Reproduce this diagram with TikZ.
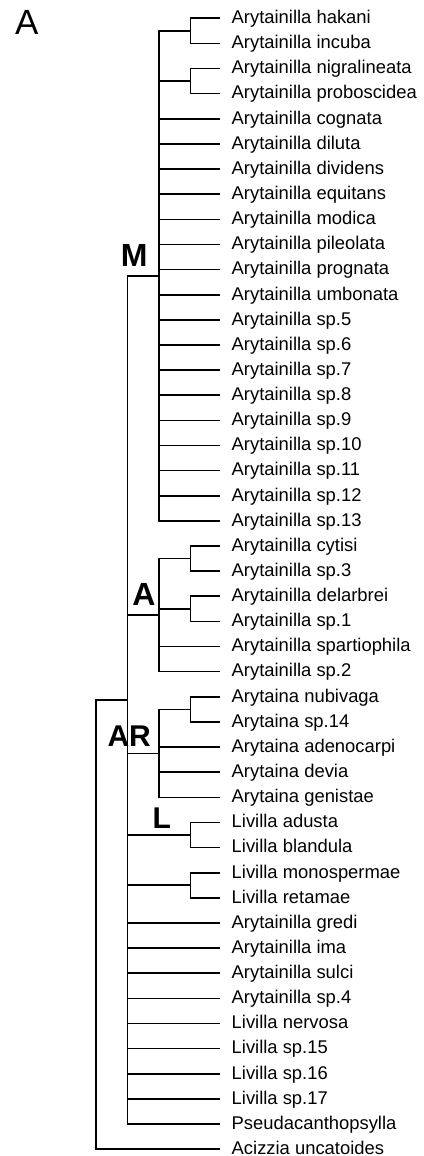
\documentclass[tikz,border=0pt]{standalone}
\usepackage{fontspec}
\setmainfont{Liberation Sans}
\usetikzlibrary{calc}
\newcommand\cladept[4]{\path (#2) -- (#3) coordinate[pos=0.5] (tmp#1); \coordinate (#1) at (tmp#1 -| #4);}
\begin{document}
\begin{tikzpicture}[x=1pt,y=-1pt,
  br/.style={line width=1.6pt, line join=miter},
  taxon/.style={anchor=base west, inner sep=0pt, font=\fontsize{18.4}{20}\selectfont, xshift=11.5pt, yshift=-5.3pt},
  clade/.style={anchor=base, inner sep=0pt, font=\bfseries\fontsize{32}{34}\selectfont},
  cladesm/.style={anchor=base, inner sep=0pt, font=\bfseries\fontsize{30}{32}\selectfont}]
\useasboundingbox (0,0) rectangle (423,1156);
\foreach \n [count=\i from 0] in {Arytainilla hakani, Arytainilla incuba, Arytainilla nigralineata, Arytainilla proboscidea, Arytainilla cognata, Arytainilla diluta, Arytainilla dividens, Arytainilla equitans, Arytainilla modica, Arytainilla pileolata, Arytainilla prognata, Arytainilla umbonata, Arytainilla sp.5, Arytainilla sp.6, Arytainilla sp.7, Arytainilla sp.8, Arytainilla sp.9, Arytainilla sp.10, Arytainilla sp.11, Arytainilla sp.12, Arytainilla sp.13, Arytainilla cytisi, Arytainilla sp.3, Arytainilla delarbrei, Arytainilla sp.1, Arytainilla spartiophila, Arytainilla sp.2, Arytaina nubivaga, Arytaina sp.14, Arytaina adenocarpi, Arytaina devia, Arytaina genistae, Livilla adusta, Livilla blandula, Livilla monospermae, Livilla retamae, Arytainilla gredi, Arytainilla ima, Arytainilla sulci, Arytainilla sp.4, Livilla nervosa, Livilla sp.15, Livilla sp.16, Livilla sp.17, Pseudacanthopsylla, Acizzia uncatoides} {
  \coordinate (e\i) at (220, {18.3+25.13*\i});
  \node[taxon] (t\i) at (e\i) {\n};
}
\coordinate (c1) at (96.2,0);
\coordinate (c2) at (127.3,0);
\coordinate (c3) at (159.2,0);
\coordinate (c4) at (190.5,0);
\cladept{n01}{e0}{e1}{c4}
\cladept{n23}{e2}{e3}{c4}
\cladept{M}{n01}{e20}{c3}
\cladept{n2122}{e21}{e22}{c4}
\cladept{n2324}{e23}{e24}{c4}
\cladept{Acl}{n2122}{e26}{c3}
\cladept{n2728}{e27}{e28}{c4}
\cladept{Ary}{n2728}{e31}{c3}
\cladept{Lcl}{e32}{e33}{c4}
\cladept{n3435}{e34}{e35}{c4}
\cladept{AR}{M}{e44}{c2}
\cladept{R}{AR}{e45}{c1}
% cherries
\draw[br] (e0) -| (n01) |- (e1);
\draw[br] (e2) -| (n23) |- (e3);
\draw[br] (e21) -| (n2122) |- (e22);
\draw[br] (e23) -| (n2324) |- (e24);
\draw[br] (e27) -| (n2728) |- (e28);
\draw[br] (e32) -| (Lcl) |- (e33);
\draw[br] (e34) -| (n3435) |- (e35);
% M clade
\draw[br] (n01) -| (M) |- (e20);
\draw[br] (M |- n23) -- (n23);
\foreach \i in {4,...,19} \draw[br] (M |- e\i) -- (e\i);
% A clade
\draw[br] (n2122) -| (Acl) |- (e26);
\draw[br] (Acl |- n2324) -- (n2324);
\draw[br] (Acl |- e25) -- (e25);
% Arytaina clade
\draw[br] (n2728) -| (Ary) |- (e31);
\foreach \i in {29,30} \draw[br] (Ary |- e\i) -- (e\i);
% AR clade
\draw[br] (M) -| (AR) |- (e44);
\foreach \c in {Acl,Ary,Lcl,n3435} \draw[br] (AR |- \c) -- (\c);
\foreach \i in {36,...,43} \draw[br] (AR |- e\i) -- (e\i);
% root
\draw[br] (AR) -| (R) |- (e45);
% labels
\node[anchor=base west, inner sep=0pt, font=\fontsize{35}{36}\selectfont] (panel) at (15,34.3) {A};
\node[clade] (labM) at (134.2,266) {M};
\node[clade] (labA) at (144,605) {A};
\node[cladesm] (labAR) at (129.2,746) {AR};
\node[cladesm] (labL) at (161.7,828.3) {L};
\end{tikzpicture}
\end{document}
